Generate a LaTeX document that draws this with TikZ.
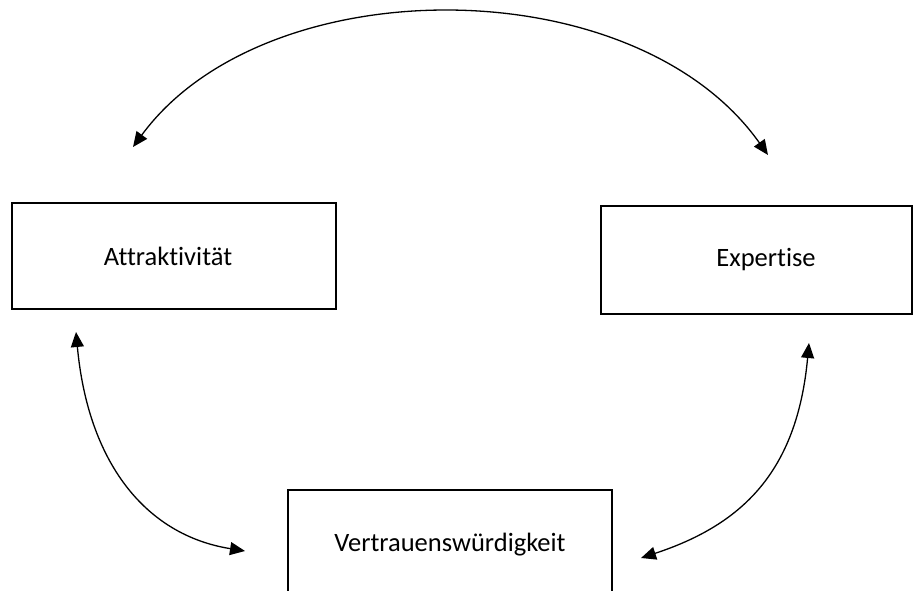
\documentclass[tikz,border=0pt]{standalone}
\usepackage{fontspec}
\setmainfont{Carlito}[Ligatures=NoCommon]
\usetikzlibrary{arrows.meta}
\begin{document}
\begin{tikzpicture}[x=1pt,y=-1pt,
  box/.style={draw=black,line width=2pt,fill=white,inner sep=0pt,
    font=\fontsize{26.5}{31}\selectfont},
  conn/.style={line width=1.3pt,{Triangle[length=15pt,width=13pt]}-{Triangle[length=15pt,width=13pt]}}]
\useasboundingbox (0,0) rectangle (914,591);
\node[box,minimum width=324pt,minimum height=106pt] (attr) at (174,256) {Attraktivität\hspace*{12pt}};
\node[box,minimum width=311pt,minimum height=107pt] (expert) at (756,260) {\hspace*{20pt}Expertise};
\node[box,minimum width=324pt,minimum height=110pt] (trust) at (450,545) {Vertrauenswürdigkeit};
\coordinate (tl) at (133,147);
\coordinate (tr) at (768,155);
\coordinate (la) at (76,332);
\coordinate (lb) at (245,551);
\coordinate (ra) at (809,343);
\coordinate (rb) at (641,558);
\draw[conn] (tl) .. controls (265,-33) and (635,-33) .. (tr);
\draw[conn] (la) .. controls (88,462) and (145,535) .. (lb);
\draw[conn] (ra) .. controls (797,473) and (741,525) .. (rb);
\end{tikzpicture}
\end{document}
